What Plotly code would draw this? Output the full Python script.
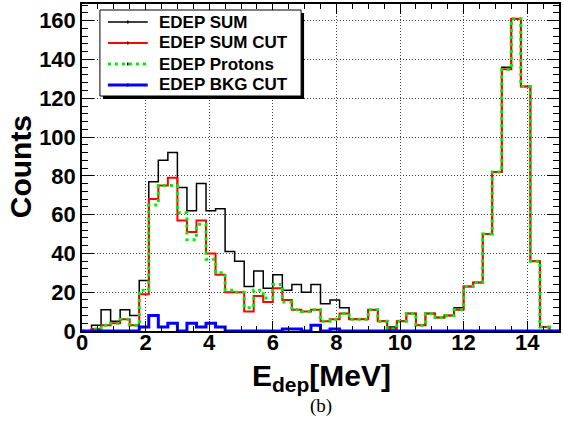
import numpy as np
import plotly.graph_objects as go

# ---------------- data (counts per 0.3 MeV bin, 0 .. 15 MeV) ----------------
bin_width = 0.3
n_bins = 50
x_min = 0.0

edep_sum = [0, 3, 11, 5, 11, 8, 26, 77, 88, 92,
            74, 62, 76, 62, 63, 41, 36, 23, 31, 22,
            29, 21, 24, 20, 24, 14, 16, 12, 6, 6,
            11, 5, 2, 5, 9, 3, 9, 7, 8, 12,
            23, 25, 50, 82, 136, 161, 126, 36, 2, 0]

edep_sum_cut = [0, 1, 3, 4, 6, 3, 19, 68, 75, 79,
                57, 51, 57, 40, 29, 20, 20, 10, 18, 15,
                22, 16, 11, 10, 11, 5, 6, 9, 6, 6,
                11, 5, 1, 5, 9, 3, 9, 7, 8, 11,
                23, 25, 50, 82, 135, 161, 126, 36, 2, 0]

edep_protons = [0, 1, 3, 4, 6, 3, 21, 65, 75, 75,
                61, 47, 55, 37, 30, 21, 20, 12, 21, 17,
                24, 15, 11, 10, 11, 5, 6, 9, 6, 6,
                11, 5, 1, 5, 9, 3, 9, 7, 8, 11,
                23, 25, 50, 82, 135, 161, 126, 36, 2, 0]

edep_bkg_cut = [0, 0, 0, 0, 0, 0, 2, 8, 2, 4,
                0, 4, 2, 4, 2, 0, 0, 0, 0, 0,
                0, 1, 1, 0, 3, 0, 1, 0, 0, 0,
                0, 0, 0, 0, 0, 0, 0, 0, 0, 0,
                0, 0, 0, 0, 0, 0, 0, 0, 0, 0]

series_names = ["EDEP SUM", "EDEP SUM CUT", "EDEP Protons", "EDEP BKG CUT"]
x_tick_vals = [0, 2, 4, 6, 8, 10, 12, 14]
y_tick_vals = [0, 20, 40, 60, 80, 100, 120, 140, 160]

# ---------------- figure ----------------
edges = np.round(x_min + np.arange(n_bins + 1) * bin_width, 4)

def step_y(counts):
    return list(counts) + [counts[-1]]

styles = [
    dict(color="black", width=1.5),
    dict(color="#ff0000", width=2),
    dict(color="#00ee00", width=3, dash="3px,4px"),
    dict(color="#0000ff", width=3),
]
all_series = [edep_sum, edep_sum_cut, edep_protons, edep_bkg_cut]

fig = go.Figure()
for name, counts, st in zip(series_names, all_series, styles):
    fig.add_trace(go.Scatter(x=edges, y=step_y(counts), mode="lines",
                             line_shape="hv", name=name, line=st,
                             showlegend=False))

W, H = 563, 433
L, R, T, B = 82, 2, 4, 102
pw, ph = W - L - R, H - T - B

def px(x):
    return (x - L) / pw

def py(y):
    return (H - B - y) / ph

axis_common = dict(
    showline=True, linewidth=1.5, linecolor="black", mirror="allticks",
    ticks="inside", tickwidth=1, tickcolor="black",
    showgrid=True, gridcolor="#444444", gridwidth=1, griddash="1px,2px",
    zeroline=False,
    tickfont=dict(family="Liberation Sans", size=22, color="black", weight="bold"),
)

fig.update_xaxes(range=[0, 15], tickvals=x_tick_vals, ticklen=10,
                 ticklabelstandoff=-9,
                 minor=dict(ticks="inside", ticklen=5, dtick=0.5, tick0=0,
                            tickcolor="black", showgrid=False),
                 **axis_common)
fig.update_yaxes(range=[0, 168.6], tickvals=y_tick_vals, ticklen=12,
                 minor=dict(ticks="inside", ticklen=6, dtick=4, tick0=0,
                            tickcolor="black", showgrid=False),
                 **axis_common)

shapes = []
annotations = []

# legend box with shadow
lx0, lx1, ly0, ly1 = 100, 302, 10, 96
shapes.append(dict(type="rect", xref="paper", yref="paper", layer="above",
                   x0=px(lx0 + 3), x1=px(lx1 + 3), y0=py(ly1 + 3), y1=py(ly0 + 3),
                   fillcolor="black", line=dict(width=0)))
shapes.append(dict(type="rect", xref="paper", yref="paper", layer="above",
                   x0=px(lx0), x1=px(lx1), y0=py(ly1), y1=py(ly0),
                   fillcolor="white", line=dict(color="black", width=1)))
row_y = [22, 43, 64, 85]
for name, st, yy in zip(series_names, styles, row_y):
    shapes.append(dict(type="line", xref="paper", yref="paper", layer="above",
                       x0=px(108), x1=px(148), y0=py(yy), y1=py(yy),
                       line=dict(color=st["color"], width=st["width"],
                                 dash=st.get("dash", "solid"))))
    shapes.append(dict(type="line", xref="paper", yref="paper", layer="above",
                       x0=px(128), x1=px(128), y0=py(yy - 1.5), y1=py(yy + 1.5),
                       line=dict(color="black", width=1.5)))
    annotations.append(dict(text=name, xref="paper", yref="paper",
                            x=px(157), y=py(yy), xanchor="left", yanchor="middle",
                            showarrow=False,
                            font=dict(family="Liberation Sans", size=17,
                                      color="black", weight="bold")))

# axis titles
annotations.append(dict(text="Counts", xref="paper", yref="paper",
                        x=px(20), y=py(167), textangle=-90,
                        xanchor="center", yanchor="middle", showarrow=False,
                        font=dict(family="Liberation Sans", size=30,
                                  color="black", weight="bold")))
annotations.append(dict(text="E<sub>dep</sub>[MeV]", xref="paper", yref="paper",
                        x=px(323), y=py(377), xanchor="center", yanchor="middle",
                        showarrow=False,
                        font=dict(family="Liberation Sans", size=30,
                                  color="black", weight="bold")))
annotations.append(dict(text="(b)", xref="paper", yref="paper",
                        x=px(322), y=py(406), xanchor="center", yanchor="middle",
                        showarrow=False,
                        font=dict(family="Liberation Serif", size=19,
                                  color="black")))

fig.update_layout(width=W, height=H,
                  margin=dict(l=L, r=R, t=T, b=B, pad=0),
                  plot_bgcolor="white", paper_bgcolor="white",
                  showlegend=False, shapes=shapes, annotations=annotations,
                  font=dict(family="Liberation Sans", color="black"))

fig.write_html("out.html")
